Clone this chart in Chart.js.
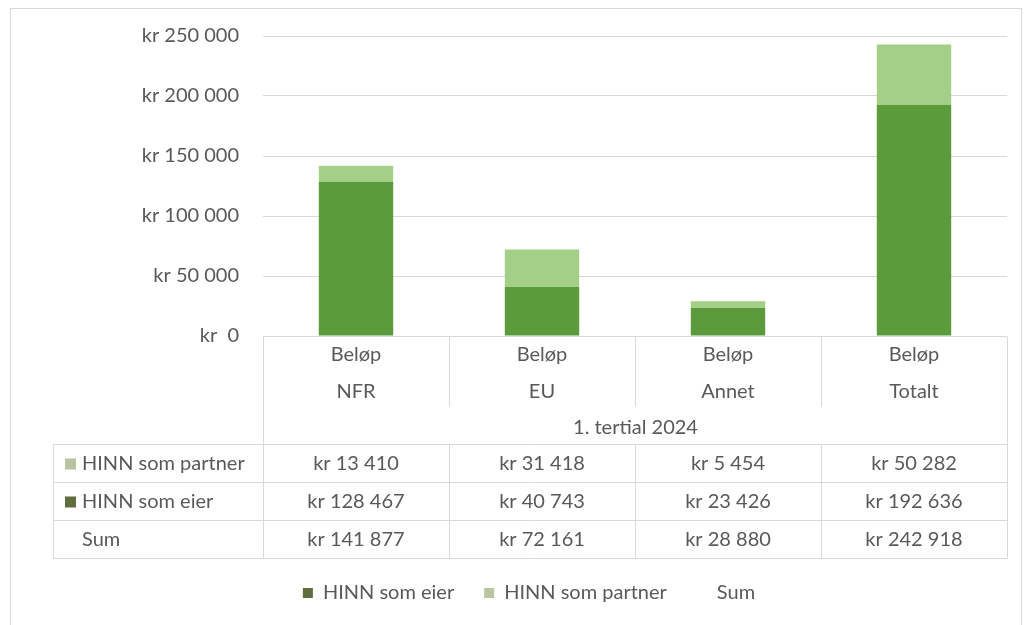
<!DOCTYPE html>
<html>
<head>
<meta charset="utf-8">
<script src="https://cdn.jsdelivr.net/npm/chart.js@4.4.1/dist/chart.umd.min.js"></script>
<style>
  html, body { margin: 0; padding: 0; background: #fff; }
  #wrap { width: 1024px; height: 625px; }
</style>
</head>
<body>
<div id="wrap"><canvas id="chart" width="1024" height="625"></canvas></div>
<script>
const categories = [['Beløp', 'NFR'], ['Beløp', 'EU'], ['Beløp', 'Annet'], ['Beløp', 'Totalt']];
const groupLabel = '1. tertial 2024';
const eierValues = [128467, 40743, 23426, 192636];
const partnerValues = [13410, 31418, 5454, 50282];
const sumValues = [141877, 72161, 28880, 242918];
const yTicks = [0, 50000, 100000, 150000, 200000, 250000];

const FONT = 'Lato, "Open Sans", sans-serif';
const FS = 20;
const TEXT = '#595959';
const GRID = '#d9d9d9';
const EIER = '#5b9b3c';
const PARTNER = '#a3cf87';
const EIER_KEY = '#5f6e3f';
const PARTNER_KEY = '#b9c4a0';

// "kr 128 467"
const kr = (v) => v === 0 ? 'kr  0' : 'kr ' + String(v).replace(/\B(?=(\d{3})+(?!\d))/g, ' ');

// frame + data table below the x axis
const tablePlugin = {
  id: 'dataTable',
  beforeDraw(chart) {
    const ctx = chart.ctx;
    ctx.save();
    ctx.strokeStyle = GRID;
    ctx.lineWidth = 1;
    ctx.strokeRect(10.5, 8.5, 1011, 640);
    ctx.restore();
  },
  afterDraw(chart) {
    const ctx = chart.ctx;
    const x = chart.scales.x;
    const area = chart.chartArea;
    const colW = x.getPixelForValue(1) - x.getPixelForValue(0);
    const edges = [];
    for (let i = 0; i <= categories.length; i++) {
      edges.push(Math.round(x.getPixelForValue(0) - colW / 2 + i * colW) + 0.5);
    }
    const top = Math.round(area.bottom) + 0.5;
    const tableTop = top + 108;
    const rowH = 38;
    const tableLeft = 53.5;
    const right = edges[edges.length - 1];

    ctx.save();
    ctx.strokeStyle = GRID;
    ctx.lineWidth = 1;
    ctx.beginPath();
    // category dividers under the axis
    for (let i = 1; i < edges.length - 1; i++) {
      ctx.moveTo(edges[i], top);
      ctx.lineTo(edges[i], top + 70);
    }
    ctx.moveTo(edges[0], top);
    ctx.lineTo(edges[0], tableTop + rowH * 3);
    ctx.moveTo(right, top);
    ctx.lineTo(right, tableTop + rowH * 3);
    // table rows
    for (let r = 0; r <= 3; r++) {
      ctx.moveTo(tableLeft, tableTop + r * rowH);
      ctx.lineTo(right, tableTop + r * rowH);
    }
    ctx.moveTo(tableLeft, tableTop);
    ctx.lineTo(tableLeft, tableTop + rowH * 3);
    for (let i = 1; i < edges.length - 1; i++) {
      ctx.moveTo(edges[i], tableTop);
      ctx.lineTo(edges[i], tableTop + rowH * 3);
    }
    ctx.stroke();

    ctx.fillStyle = TEXT;
    ctx.font = FS + 'px ' + FONT;
    ctx.textBaseline = 'middle';
    ctx.textAlign = 'center';
    ctx.fillText(groupLabel, (edges[0] + right) / 2, top + 91);

    const rows = [
      { label: 'HINN som partner', key: PARTNER_KEY, values: partnerValues },
      { label: 'HINN som eier', key: EIER_KEY, values: eierValues },
      { label: 'Sum', key: null, values: sumValues }
    ];
    rows.forEach((row, r) => {
      const cy = tableTop + r * rowH + rowH / 2;
      if (row.key) {
        ctx.fillStyle = row.key;
        ctx.fillRect(65, cy - 5, 11, 11);
      }
      ctx.fillStyle = TEXT;
      ctx.textAlign = 'left';
      ctx.fillText(row.label, 82, cy);
      ctx.textAlign = 'center';
      row.values.forEach((v, i) => {
        ctx.fillText(kr(v), x.getPixelForValue(i), cy);
      });
    });
    ctx.restore();
  }
};

new Chart(document.getElementById('chart'), {
  data: {
    labels: categories,
    datasets: [
      {
        type: 'bar',
        label: 'HINN som eier',
        data: eierValues,
        backgroundColor: EIER,
        barPercentage: 0.4,
        categoryPercentage: 1
      },
      {
        type: 'bar',
        label: 'HINN som partner',
        data: partnerValues,
        backgroundColor: PARTNER,
        barPercentage: 0.4,
        categoryPercentage: 1
      },
      {
        type: 'line',
        label: 'Sum',
        data: sumValues,
        showLine: false,
        pointRadius: 0,
        borderColor: 'rgba(0,0,0,0)',
        backgroundColor: 'rgba(0,0,0,0)'
      }
    ]
  },
  options: {
    responsive: false,
    animation: false,
    layout: { padding: { left: 51, right: 17, top: 36, bottom: 12 } },
    plugins: {
      tooltip: { enabled: false },
      legend: {
        position: 'bottom',
        labels: {
          font: { family: FONT, size: FS },
          color: TEXT,
          boxWidth: 10,
          boxHeight: 10,
          padding: 30,
          generateLabels(chart) {
            const keys = [EIER_KEY, PARTNER_KEY, 'rgba(0,0,0,0)'];
            return chart.data.datasets.map((ds, i) => ({
              text: ds.label,
              fillStyle: keys[i],
              strokeStyle: keys[i],
              lineWidth: 0,
              fontColor: TEXT,
              hidden: false,
              datasetIndex: i
            }));
          }
        }
      }
    },
    scales: {
      x: {
        stacked: true,
        grid: { display: false, drawTicks: false },
        border: { display: false },
        ticks: {
          color: TEXT,
          font: { family: FONT, size: FS, lineHeight: 1.85 },
          padding: 0,
          maxRotation: 0
        },
        afterFit(s) { s.height = 217; }
      },
      y: {
        stacked: true,
        min: 0,
        max: 250000,
        afterBuildTicks(s) { s.ticks = yTicks.map(v => ({ value: v })); },
        grid: { color: GRID, drawTicks: false },
        border: { display: false },
        ticks: {
          color: TEXT,
          font: { family: FONT, size: FS },
          padding: 24,
          callback: (v) => kr(v)
        },
        afterFit(s) { s.width = 212; }
      }
    }
  },
  plugins: [tablePlugin]
});
</script>
</body>
</html>
